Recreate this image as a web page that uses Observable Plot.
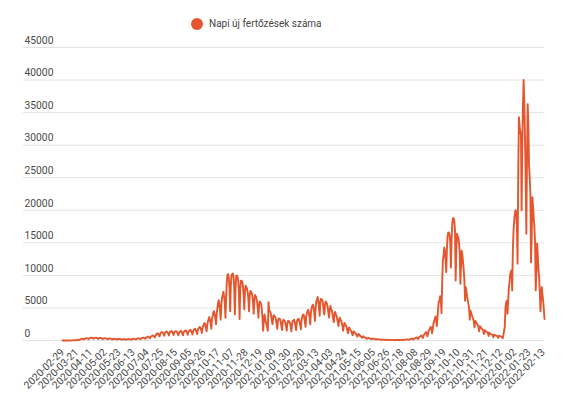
<!DOCTYPE html>
<html>
<head>
<meta charset="utf-8">
<script src="https://cdn.jsdelivr.net/npm/d3@7"></script>
<script src="https://cdn.jsdelivr.net/npm/@observablehq/plot@0.6"></script>
<style>
  html, body { margin: 0; padding: 0; background: #fff; }
  #wrap { width: 575px; font-family: Roboto, "Noto Sans", sans-serif; }
  #legend { position: relative; height: 32px; }
  #legend .dot { position: absolute; left: 191px; top: 18px; width: 12px; height: 12px; border-radius: 50%; background: #e4572e; }
  #legend .lbl { position: absolute; left: 209px; top: 17px; font-size: 10px; line-height: 14px; color: #444; white-space: nowrap; }
</style>
</head>
<body>
<div id="wrap">
  <div id="legend"><span class="dot"></span><span class="lbl">Napi új fertőzések száma</span></div>
  <div id="chart"></div>
</div>
<script>
const seriesName = "Napi új fertőzések száma";
const lineColor = "#e4572e";

// x tick labels (one every 21 daily rows)
const tickLabels = [
  "2020-02-29","2020-03-21","2020-04-11","2020-05-02","2020-05-23","2020-06-13","2020-07-04",
  "2020-07-25","2020-08-15","2020-09-05","2020-09-26","2020-10-17","2020-11-07","2020-11-28",
  "2020-12-19","2021-01-09","2021-01-30","2021-02-20","2021-03-13","2021-04-03","2021-04-24",
  "2021-05-15","2021-06-05","2021-06-26","2021-07-18","2021-08-08","2021-08-29","2021-09-19",
  "2021-10-10","2021-10-31","2021-11-21","2021-12-12","2022-01-02","2022-01-23","2022-02-13"
];
const tickEvery = 21;

const yTicks = [0, 5000, 10000, 15000, 20000, 25000, 30000, 35000, 40000, 45000];

// daily new infections, one row per day
const values2020 = [
  0,0,0,1,0,1,2,
  2,3,2,6,4,8,12,
  15,20,22,28,17,35,44,
  60,82,110,95,76,160,190,
  220,245,260,240,180,290,310,
  340,360,330,290,220,350,410,
  430,440,400,380,260,380,420,
  410,430,380,330,240,360,400,
  380,390,340,300,210,320,360,
  330,340,300,260,190,280,310,
  290,300,260,220,160,240,270,
  240,250,220,190,140,210,230,
  220,230,200,170,120,190,210,
  200,210,180,160,110,170,200,
  210,220,190,170,120,190,230,
  250,270,240,210,150,250,290,
  320,340,300,270,200,330,370,
  420,440,390,350,260,430,480,
  550,600,530,480,350,580,650,
  720,780,700,620,450,760,850,
  1050,1120,1000,880,620,1050,1180,
  1250,1300,1180,1020,720,1150,1280,
  1350,1380,1250,1050,780,1200,1350,
  1400,1450,1300,1100,850,1250,1400,
  1380,1420,1290,1050,800,1200,1350,
  1400,1480,1320,1100,820,1250,1420,
  1500,1550,1400,1150,880,1300,1480,
  1600,1650,1480,1200,920,1400,1600,
  1750,1800,1600,1350,1000,1600,1850,
  2000,2100,1900,1600,1150,1900,2250,
  2500,2700,2400,2000,1400,2400,2900,
  3300,3600,3200,2700,1800,3200,3800,
  4300,4500,4000,3400,2500,4100,4900,
  5700,6200,5500,4600,3200,5600,6600,
  7000,7500,6800,5800,3500,6500,9000,
  10100,10200,9600,8000,4500,8500,10000,
  10200,10300,9800,8200,4000,8000,9900,
  10000,9800,9200,7500,3300,7800,9200,
  9200,9000,8400,7000,4800,7500,8400,
  8200,8000,7400,6500,4500,6800,7600,
  7500,7300,6800,5800,4100,6200,7000,
  6800,6500,6000,5000,3500,5500,6000,
  5800,5600,4800,3500,1500,3000,4000
];
const values2021 = [
  3500,2800,2500,2000,1500,5900,4600,
  4500,4300,3800,3000,2500,3600,3900,
  3700,3600,3200,2600,1800,3000,3400,
  3300,3300,2900,2300,1600,2800,3200,
  3100,3000,2700,2200,1500,2600,3000,
  3000,2900,2600,2100,1400,2600,3000,
  3100,3200,2800,2300,1600,2800,3200,
  3300,3300,2900,2400,1700,3100,3600,
  3900,4000,3600,2900,2100,3700,4200,
  4500,4700,4200,3500,2500,4300,5000,
  5300,5500,5000,4200,3000,5100,6000,
  6300,6700,6000,5000,3800,6000,6400,
  6300,6200,5500,4500,4000,5600,6000,
  5800,5600,5000,4200,3500,4800,5300,
  4800,4600,4100,3400,2800,4000,4400,
  4000,3800,3300,2800,2200,3200,3500,
  3200,3000,2600,2100,1500,2400,2700,
  2400,2300,2000,1600,1100,1800,2000,
  1700,1600,1400,1100,800,1300,1400,
  1200,1150,1000,800,600,900,1000,
  800,760,650,520,400,600,650,
  500,480,420,340,250,380,420,
  360,340,300,240,180,270,300,
  260,250,220,180,130,200,220,
  190,180,160,130,90,140,160,
  140,130,110,90,60,100,120,
  110,100,90,70,50,80,95,
  90,85,75,55,40,70,80,
  85,90,80,45,70,95,100,
  110,120,100,60,95,130,140,
  160,180,150,90,140,200,220,
  260,290,240,140,230,320,360,
  420,470,400,230,380,520,600,
  700,780,650,380,620,900,1000,
  1150,1300,1100,650,1050,1500,1700,
  1900,2100,1800,1100,1800,2600,3000,
  3300,3700,3100,2200,3600,5000,6000,
  6000,6800,6200,4200,9000,12300,13000,
  14300,13800,12500,10500,14000,16000,16600,
  16600,16200,15000,11200,15500,18000,18800,
  18800,18300,17000,9200,14000,16400,16000,
  15800,15000,13600,8700,11500,13800,13200,
  12000,10800,9200,6100,8200,7600,6800,
  6200,5600,4900,3200,4600,4300,3900,
  3600,3300,2900,2000,3000,2900,2700,
  2500,2300,2100,1400,2200,2100,1900,
  1800,1700,1500,1000,1600,1500,1400,
  1300,1250,1100,700,1200,1100,1000,
  950,900,800,500,900,850,800,
  750,720,650,400,700,700,650
];
const values2022 = [
  620,600,550,350,900,1500,2100,
  5000,5800,6100,4100,6000,8000,8900,
  10200,10500,10800,7700,14000,16900,18500,
  19500,20000,19800,17500,11800,26000,34300,
  33000,31800,32000,20000,30000,36000,40000,
  36500,31200,25000,16400,28000,36300,33000,
  27000,25000,22500,12000,16000,22000,20500,
  18900,17400,14900,7700,11000,14900,13000,
  10800,9700,7500,4500,6500,8200,7000,
  6100,4800,3300
];

const values = [...values2020, ...values2021, ...values2022];
const rows = values.map((v, i) => ({i, v}));
const tickIdx = tickLabels.map((_, k) => k * tickEvery);

const chart = Plot.plot({
  width: 575,
  height: 372,
  marginTop: 15,
  marginBottom: 64,
  marginLeft: 23,
  marginRight: 31,
  style: {fontFamily: "Roboto, sans-serif", fontSize: "10px", background: "#fff"},
  x: {domain: [-58, values.length - 1], axis: null},
  y: {domain: [0, 45000], axis: null},
  marks: [
    Plot.ruleY(yTicks, {stroke: "#e3e3e3", strokeWidth: 1}),
    Plot.text(yTicks, {y: d => d, text: d => String(d), frameAnchor: "left", textAnchor: "start", dx: 1, dy: -7, fill: "#4a4a4a", fontSize: 10.3}),
    Plot.line(rows, {x: "i", y: "v", stroke: lineColor, strokeWidth: 1.9, strokeLinejoin: "round"}),
    Plot.text(tickIdx, {x: d => d, text: (d, k) => tickLabels[k], frameAnchor: "bottom", dy: 10, rotate: -45, textAnchor: "end", lineAnchor: "middle", fill: "#4a4a4a", fontSize: 10.3})
  ]
});
document.getElementById("chart").appendChild(chart);
</script>
</body>
</html>
